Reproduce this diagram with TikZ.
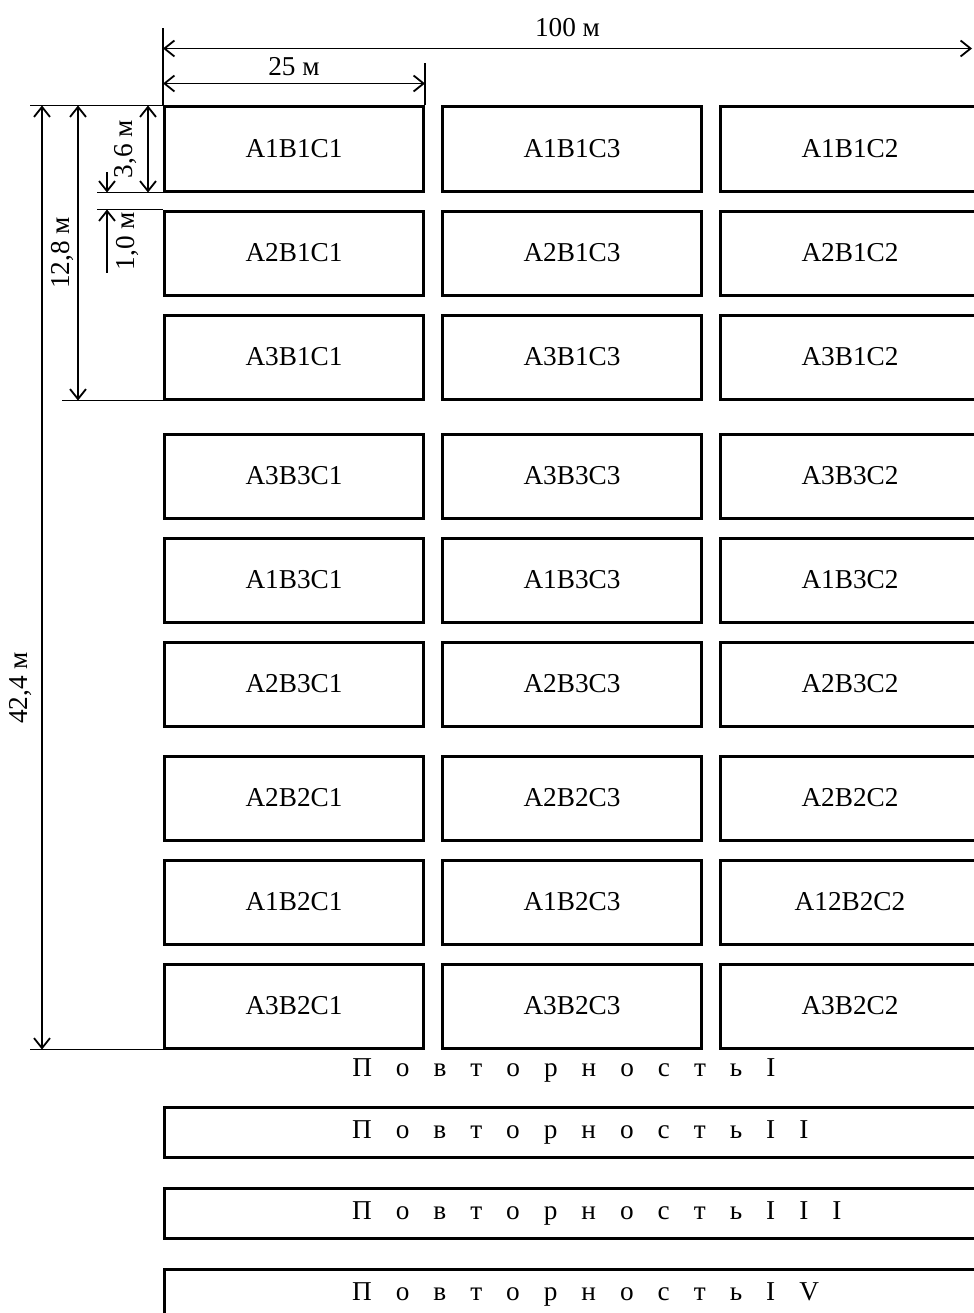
\documentclass[tikz,border=0pt]{standalone}
\usepackage{fontspec}
\setmainfont{Liberation Serif}
\usetikzlibrary{arrows.meta,positioning}

\newcommand\plotfont{\fontsize{19.4}{23}\selectfont}
\newcommand\repgap{\spaceskip=0.88em\relax}
\newcommand\repfont{\plotfont\repgap}

\begin{document}
\begin{tikzpicture}[
      node distance=4.25mm and 4mm,
      plot/.style={draw, rectangle, line width=0.75mm, minimum width=64.75mm,
                   minimum height=21mm, inner sep=0pt, font=\plotfont},
      strip/.style={draw, rectangle, line width=0.75mm, minimum height=12.5mm,
                    text width=203.75mm, inner sep=0pt, align=left, font=\repfont},
      reptext/.style={inner sep=0pt, anchor=west, font=\repfont},
      barb/.tip={Straight Barb[length=2.5mm, width=4mm]},
      dim/.style={barb-barb, line width=0.45mm},
      dimend/.style={-barb, line width=0.45mm},
      ext/.style={line width=0.45mm},
      dimlabel/.style={font=\plotfont, inner sep=0pt},
    ]
    \useasboundingbox (0,0) rectangle (243.25mm,-328.25mm);

    % ---- block B1 ----
    \node[plot] (a1b1c1) at (73.5mm,-37.25mm) {A1B1C1};
    \node[plot, right=of a1b1c1] (a1b1c3) {A1B1C3};
    \node[plot, right=of a1b1c3] (a1b1c2) {A1B1C2};

    \node[plot, below=of a1b1c1] (a2b1c1) {A2B1C1};
    \node[plot, right=of a2b1c1] (a2b1c3) {A2B1C3};
    \node[plot, right=of a2b1c3] (a2b1c2) {A2B1C2};

    \node[plot, below=of a2b1c1] (a3b1c1) {A3B1C1};
    \node[plot, right=of a3b1c1] (a3b1c3) {A3B1C3};
    \node[plot, right=of a3b1c3] (a3b1c2) {A3B1C2};

    % ---- block B3 ----
    \node[plot, below=8mm of a3b1c1] (a3b3c1) {A3B3C1};
    \node[plot, right=of a3b3c1] (a3b3c3) {A3B3C3};
    \node[plot, right=of a3b3c3] (a3b3c2) {A3B3C2};

    \node[plot, below=of a3b3c1] (a1b3c1) {A1B3C1};
    \node[plot, right=of a1b3c1] (a1b3c3) {A1B3C3};
    \node[plot, right=of a1b3c3] (a1b3c2) {A1B3C2};

    \node[plot, below=of a1b3c1] (a2b3c1) {A2B3C1};
    \node[plot, right=of a2b3c1] (a2b3c3) {A2B3C3};
    \node[plot, right=of a2b3c3] (a2b3c2) {A2B3C2};

    % ---- block B2 ----
    \node[plot, below=6.75mm of a2b3c1] (a2b2c1) {A2B2C1};
    \node[plot, right=of a2b2c1] (a2b2c3) {A2B2C3};
    \node[plot, right=of a2b2c3] (a2b2c2) {A2B2C2};

    \node[plot, below=of a2b2c1] (a1b2c1) {A1B2C1};
    \node[plot, right=of a1b2c1] (a1b2c3) {A1B2C3};
    \node[plot, right=of a1b2c3] (a12b2c2) {A12B2C2};

    \node[plot, below=of a1b2c1] (a3b2c1) {A3B2C1};
    \node[plot, right=of a3b2c1] (a3b2c3) {A3B2C3};
    \node[plot, right=of a3b2c3] (a3b2c2) {A3B2C2};

    % ---- repetitions ----
    \node[reptext] (rep1) at ([shift={(47.25mm,-5.25mm)}]a3b2c1.south west)
      {П о в т о р н о с т ь I};
    \node[strip, below=14mm of a3b2c1.south west, anchor=north west] (rep2)
      {\hspace*{46.9mm}\repgap П о в т о р н о с т ь I I};
    \node[strip, below=7mm of rep2.south west, anchor=north west] (rep3)
      {\hspace*{46.9mm}\repgap П о в т о р н о с т ь I I I};
    \node[strip, below=7mm of rep3.south west, anchor=north west] (rep4)
      {\hspace*{46.9mm}\repgap П о в т о р н о с т ь I V};

    % ---- width dimensions ----
    \draw[ext] (a1b1c1.north west) -- ++(0,19.25mm);
    \draw[ext] (a1b1c1.north east) -- ++(0,10.5mm);
    \draw[dim] ([yshift=14.25mm]a1b1c1.north west) -- ([xshift=-2.25mm, yshift=14.25mm]a1b1c2.north east)
      node[dimlabel, midway, above=2.75mm] (w100) {100 м};
    \draw[dim] ([yshift=5.5mm]a1b1c1.north west) -- ([yshift=5.5mm]a1b1c1.north east)
      node[dimlabel, midway, above=1.75mm] (w25) {25 м};

    % ---- length dimensions ----
    \draw[ext] (a1b1c1.north west) -- ++(-33.25mm,0);
    \draw[ext] (a3b2c1.south west) -- ++(-33.25mm,0);
    \draw[ext] (a3b1c1.south west) -- ++(-25.25mm,0);
    \draw[ext] (a1b1c1.south west) -- ++(-16.5mm,0);
    \draw[ext] (a2b1c1.north west) -- ++(-16.5mm,0);

    \draw[dim] ([xshift=-30.25mm]a1b1c1.north west) -- ([xshift=-30.25mm]a3b2c1.south west)
      node[dimlabel, pos=0.617, rotate=90, anchor=south, inner sep=2.25mm] (l424) {42,4 м};
    \draw[dim] ([xshift=-21.25mm]a1b1c1.north west) -- ([xshift=-21.25mm]a3b1c1.south west)
      node[dimlabel, midway, rotate=90, anchor=south, inner sep=0.75mm] (l128) {12,8 м};
    \draw[dim] ([xshift=-3.75mm]a1b1c1.north west) -- ([xshift=-3.75mm]a1b1c1.south west)
      node[dimlabel, midway, rotate=90, anchor=south, inner sep=2.5mm] (l36) {3,6 м};
    \draw[dimend] ([shift={(-14mm,5mm)}]a1b1c1.south west) -- ([xshift=-14mm]a1b1c1.south west);
    \draw[dimend] ([shift={(-14mm,-15.75mm)}]a2b1c1.north west) -- ([xshift=-14mm]a2b1c1.north west)
      node[dimlabel, midway, rotate=90, anchor=north, inner sep=2mm] (l10) {1,0 м};
\end{tikzpicture}
\end{document}
